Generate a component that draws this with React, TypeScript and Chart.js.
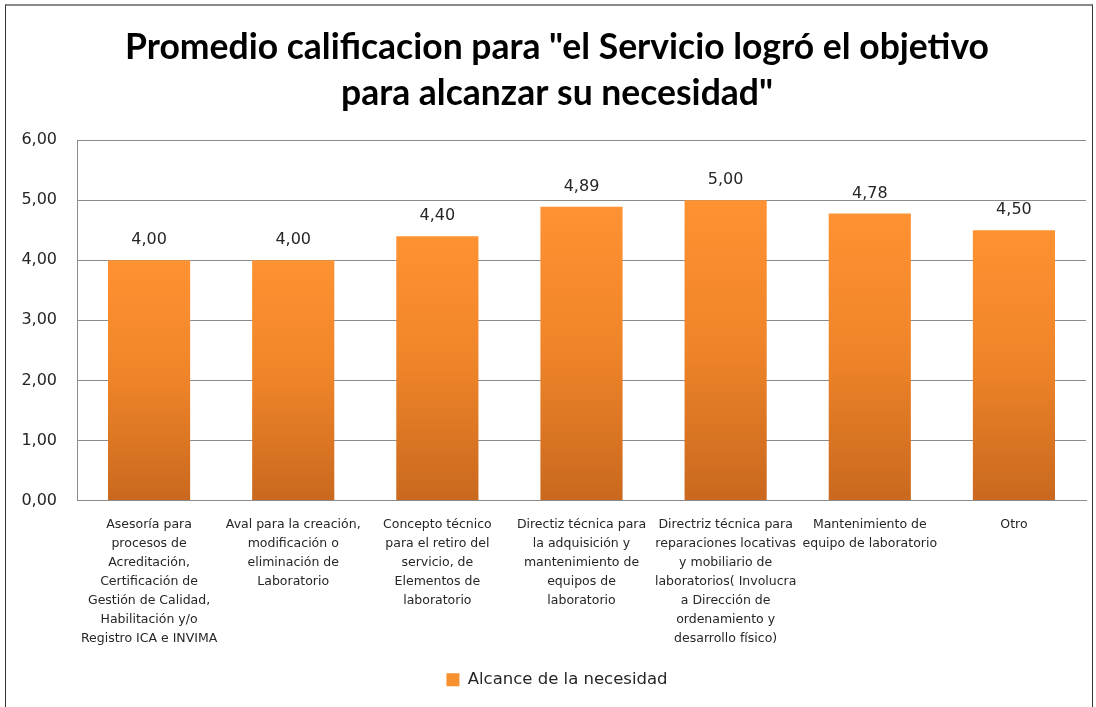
import React, { useEffect, useRef } from 'react';
import { Chart, registerables } from 'chart.js';

Chart.register(...registerables);

const titleLines: string[] = ['Promedio calificacion para "el Servicio logró el objetivo', 'para alcanzar su necesidad"'];
const seriesName = 'Alcance de la necesidad';
const categories: string[][] = [
  ['Asesoría para', 'procesos de', 'Acreditación,', 'Certificación de', 'Gestión de Calidad,', 'Habilitación y/o', 'Registro ICA e INVIMA'],
  ['Aval para la creación,', 'modificación o', 'eliminación de', 'Laboratorio'],
  ['Concepto técnico', 'para el retiro del', 'servicio, de', 'Elementos de', 'laboratorio'],
  ['Directiz técnica para', 'la adquisición y', 'mantenimiento de', 'equipos de', 'laboratorio'],
  ['Directriz técnica para', 'reparaciones locativas', 'y mobiliario de', 'laboratorios( Involucra', 'a Dirección de', 'ordenamiento y', 'desarrollo físico)'],
  ['Mantenimiento de', 'equipo de laboratorio'],
  ['Otro'],
];
const values: number[] = [4.0, 4.0, 4.4, 4.89, 5.0, 4.78, 4.5];
const yMin = 0;
const yMax = 6;
const yStep = 1;

const fmt = (v: number) => v.toFixed(2).replace('.', ',');

const TOP_COLOR = '#FF9232';
const BOTTOM_COLOR = '#C9681E';
const SOLID = '#F7902E';
const TEXT = '#262626';
const FONT = "'DejaVu Sans', sans-serif";
const CANVAS_W = 1114;
const CANVAS_H = 707;

const valueLabels = {
  id: 'valueLabels',
  afterDatasetsDraw(chart: any) {
    const ctx = chart.ctx;
    const meta = chart.getDatasetMeta(0);
    ctx.save();
    ctx.font = `16px ${FONT}`;
    ctx.fillStyle = TEXT;
    ctx.textAlign = 'center';
    ctx.textBaseline = 'middle';
    meta.data.forEach((el: any, i: number) => {
      ctx.fillText(fmt(values[i]), el.x, el.y - 20);
    });
    ctx.restore();
  },
};

export default function App() {
  const ref = useRef<HTMLCanvasElement | null>(null);
  useEffect(() => {
    if (!ref.current) return;
    const chart = new Chart(ref.current, {
      type: 'bar',
      data: {
        labels: categories,
        datasets: [
          {
            label: seriesName,
            data: values,
            borderWidth: 0,
            barPercentage: 0.57,
            categoryPercentage: 1,
            backgroundColor: (c: any) => {
              if (c.type !== 'data' || c.dataIndex === undefined) return SOLID;
              const ch = c.chart;
              const ys = ch.scales && ch.scales.y;
              if (!ys || !ch.chartArea) return SOLID;
              const top = ys.getPixelForValue(values[c.dataIndex]);
              const bottom = ys.getPixelForValue(0);
              if (!isFinite(top) || !isFinite(bottom) || top === bottom) return SOLID;
              const g = ch.ctx.createLinearGradient(0, top, 0, bottom);
              g.addColorStop(0, TOP_COLOR);
              g.addColorStop(0.5, '#EE8429');
              g.addColorStop(1, BOTTOM_COLOR);
              return g;
            },
          },
        ],
      },
      options: {
        responsive: false,
        animation: false,
        devicePixelRatio: 1,
        layout: { padding: { left: 0, right: 0, top: 0, bottom: 9 } },
        font: { family: FONT },
        plugins: {
          tooltip: { enabled: false },
          title: {
            display: true,
            text: titleLines,
            color: '#000',
            font: { family: 'Lato, sans-serif', weight: 'bold', size: 35.5, lineHeight: 1.27 },
            padding: { top: 25.5, bottom: 24.5 },
          },
          legend: {
            display: true,
            position: 'bottom',
            labels: {
              boxWidth: 13,
              boxHeight: 13,
              color: TEXT,
              font: { family: FONT, size: 16.5 },
              padding: 10,
              generateLabels: (ch: any) => {
                const items = Chart.defaults.plugins.legend.labels.generateLabels(ch);
                return items.map((it: any) => ({ ...it, fillStyle: SOLID, strokeStyle: SOLID, lineWidth: 0 }));
              },
            },
          },
        },
        scales: {
          x: {
            grid: { display: false, drawTicks: false },
            border: { display: true, color: '#8C8C8C', width: 1 },
            ticks: {
              color: TEXT,
              font: { family: FONT, size: 12.5, lineHeight: 1.52 },
              maxRotation: 0,
              minRotation: 0,
              autoSkip: false,
              padding: 15,
            },
            afterFit: (s: any) => {
              s.height = 161;
            },
          },
          y: {
            min: yMin,
            max: yMax,
            grid: { color: '#8C8C8C', drawTicks: false, lineWidth: 1 },
            border: { display: true, color: '#8C8C8C', width: 1 },
            ticks: {
              stepSize: yStep,
              color: TEXT,
              font: { family: FONT, size: 16 },
              padding: 20,
              callback: (v: any) => fmt(Number(v)),
            },
            afterFit: (s: any) => {
              s.width = 77;
            },
          },
          yPad: {
            position: 'right',
            min: yMin,
            max: yMax,
            grid: { display: false, drawTicks: false },
            border: { display: false },
            ticks: { display: false },
            afterFit: (s: any) => {
              s.width = 28;
            },
          },
        },
      },
      plugins: [valueLabels],
    } as any);
    return () => chart.destroy();
  }, []);

  return (
    <div style={{ position: 'fixed', left: 0, top: 0, width: 1096, height: 707, background: '#fff', overflow: 'hidden' }}>
      <canvas
        ref={ref}
        width={CANVAS_W}
        height={CANVAS_H}
        style={{ position: 'absolute', left: 0, top: 0, width: CANVAS_W, height: CANVAS_H }}
      />
      <div
        style={{
          position: 'absolute',
          left: 5,
          top: 4,
          width: 1086,
          height: 720,
          borderLeft: '1px solid #333',
          borderRight: '1px solid #333',
          borderTop: '2px solid #8a8a8a',
          pointerEvents: 'none',
        }}
      />
    </div>
  );
}
